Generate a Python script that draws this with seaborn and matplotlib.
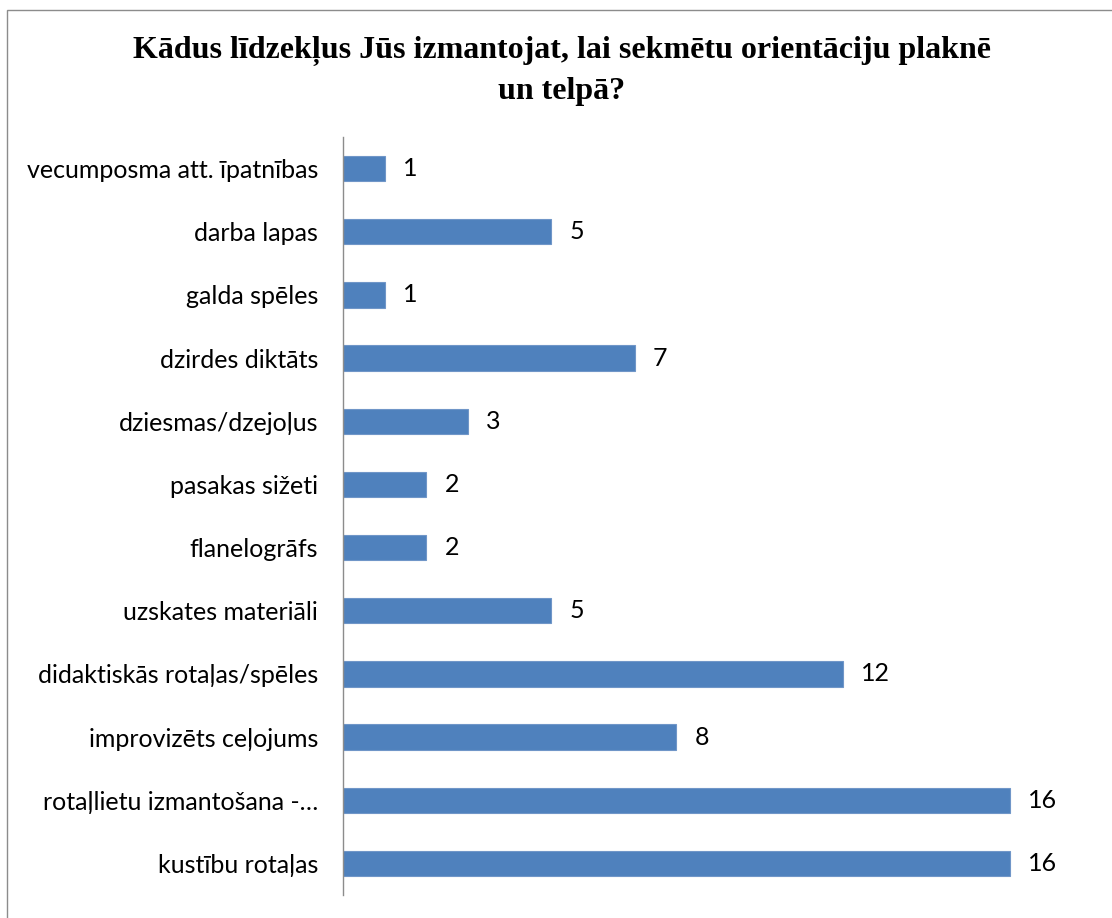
import matplotlib
matplotlib.use("Agg")
import matplotlib.pyplot as plt
import seaborn as sns
import pandas as pd
from matplotlib.patches import Rectangle

categories = [
    "vecumposma att. īpatnības",
    "darba lapas",
    "galda spēles",
    "dzirdes diktāts",
    "dziesmas/dzejoļus",
    "pasakas sižeti",
    "flanelogrāfs",
    "uzskates materiāli",
    "didaktiskās rotaļas/spēles",
    "improvizēts ceļojums",
    "rotaļlietu izmantošana -…",
    "kustību rotaļas",
]
counts = [1, 5, 1, 7, 3, 2, 2, 5, 12, 8, 16, 16]
title_text = "Kādus līdzekļus Jūs izmantojat, lai sekmētu orientāciju plaknē\nun telpā?"

sns.set_theme(style="white")
plt.rcParams["font.family"] = ["Lato", "DejaVu Sans"]
plt.rcParams["text.color"] = "black"

df = pd.DataFrame({"category": categories, "count": counts})

fig = plt.figure(figsize=(11.12, 9.18), dpi=100)
ax = fig.add_axes([343 / 1112, 1 - 895 / 918, (1093 - 343) / 1112, (895 - 137) / 918])

sns.barplot(data=df, x="count", y="category", order=categories, orient="h",
            color="#4F81BD", saturation=1, width=0.4, ax=ax,
            edgecolor="#7096c8", linewidth=0.8)

ax.set_xlim(0, 18)
ax.set_ylim(len(categories) - 0.5, -0.5)
ax.set_xlabel("")
ax.set_ylabel("")
ax.set_xticks([])
for side in ["top", "right", "bottom"]:
    ax.spines[side].set_visible(False)
ax.spines["left"].set_color("#8c8c8c")
ax.spines["left"].set_linewidth(1.0)
ax.tick_params(axis="y", length=0, pad=18, labelsize=18, labelcolor="black")

for container in ax.containers:
    ax.bar_label(container, labels=[str(v) for v in counts], padding=13,
                 fontsize=18, color="black")

fig.text(562 / 1112, 1 - 71 / 918, title_text, ha="center", va="center",
         fontsize=23, fontweight="bold", family="Liberation Serif",
         color="black", linespacing=1.5)

# outer chart frame
fig.patches.append(Rectangle((7 / 1112, -0.1), 1.2, 1 - 10 / 918 + 0.1,
                             transform=fig.transFigure, fill=False,
                             edgecolor="#8c8c8c", linewidth=1.0))

fig.savefig("out.png", dpi=100, facecolor="white")
